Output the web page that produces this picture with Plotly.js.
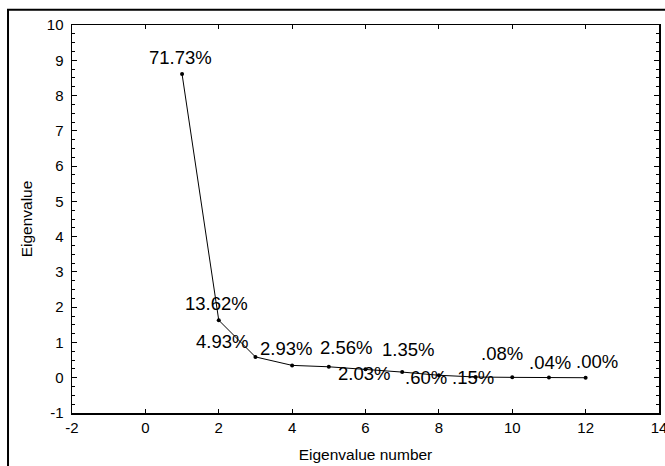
<!DOCTYPE html>
<html>
<head>
<meta charset="utf-8">
<script src="https://cdn.plot.ly/plotly-3.0.1.min.js"></script>
<style>html,body{margin:0;padding:0;background:#fff;}#chart{width:665px;height:466px;}</style>
</head>
<body>
<div id="chart"></div>
<script>
// Eigenvalue number
const eigenNumber = [1, 2, 3, 4, 5, 6, 7, 8, 9, 10, 11, 12];
// Eigenvalues
const eigenValue = [8.61, 1.63, 0.59, 0.35, 0.31, 0.24, 0.16, 0.07, 0.02, 0.01, 0.005, 0.00];
// Percent of variance labels
const pctLabels = ["71.73%", "13.62%", "4.93%", "2.93%", "2.56%", "2.03%", "1.35%", ".60%", ".15%", ".08%", ".04%", ".00%"];
// Tick values and labels
const xTickVals = [-2, 0, 2, 4, 6, 8, 10, 12, 14];
const xTickText = ["-2", "0", "2", "4", "6", "8", "10", "12", "14"];
const yTickVals = [-1, 0, 1, 2, 3, 4, 5, 6, 7, 8, 9, 10];
const yTickText = ["-1", "0", "1", "2", "3", "4", "5", "6", "7", "8", "9", "10"];

// label pixel offsets (style only)
const labelDX = [-2, -2, -33, -6, 17, -2, 6, -13, -3, -10, 1, 11];
const labelDY = [17, 17, 15, 17, 19, -4, 23, -2, 0, 24, 15, 16];

const FONT = "Liberation Sans, Arial, sans-serif";

const trace = {
  x: eigenNumber,
  y: eigenValue,
  type: "scatter",
  mode: "lines+markers",
  line: {color: "#000", width: 1},
  marker: {color: "#000", size: 4},
  hoverinfo: "x+y",
  showlegend: false
};

const annotations = eigenNumber.map((n, i) => ({
  x: n, y: eigenValue[i], xref: "x", yref: "y",
  text: pctLabels[i], showarrow: false,
  xshift: labelDX[i], yshift: labelDY[i],
  font: {family: FONT, size: 18.5, color: "#000"}
}));

const layout = {
  width: 665, height: 466,
  margin: {l: 72, r: 6, t: 25, b: 53},
  paper_bgcolor: "#fff", plot_bgcolor: "#fff",
  font: {family: FONT, color: "#000"},
  xaxis: {
    range: [-2, 14], tickmode: "array", tickvals: xTickVals, ticktext: xTickText,
    ticks: "inside", ticklen: 4, tickcolor: "#000",
    showline: true, linecolor: "#000", linewidth: 1.5, mirror: "allticks",
    showgrid: false, zeroline: false, ticklabeloverflow: "allow",
    tickfont: {family: FONT, size: 15, color: "#000"},
    title: {text: "Eigenvalue number", font: {family: FONT, size: 15.5, color: "#000"}, standoff: 14}
  },
  yaxis: {
    range: [-1, 10], tickmode: "array", tickvals: yTickVals, ticktext: yTickText,
    ticks: "inside", ticklen: 5, tickcolor: "#000",
    minor: {dtick: 0.25, tick0: 0, ticks: "inside", ticklen: 3, tickcolor: "#000"},
    showline: true, linecolor: "#000", linewidth: 1.5, mirror: "allticks",
    showgrid: false, zeroline: false, ticklabeloverflow: "allow",
    tickfont: {family: FONT, size: 15, color: "#000"},
    ticklabelstandoff: 4,
    title: {text: "Eigenvalue", font: {family: FONT, size: 15.5, color: "#000"}, standoff: 10}
  },
  shapes: [{
    type: "rect", xref: "paper", yref: "paper",
    x0: -0.109, x1: 1.2, y0: -0.4, y1: 1.039,
    line: {color: "#000", width: 2}, fillcolor: "rgba(0,0,0,0)", layer: "above"
  }],
  annotations: annotations
};

Plotly.newPlot("chart", [trace], layout, {displayModeBar: false, staticPlot: true});
</script>
</body>
</html>
